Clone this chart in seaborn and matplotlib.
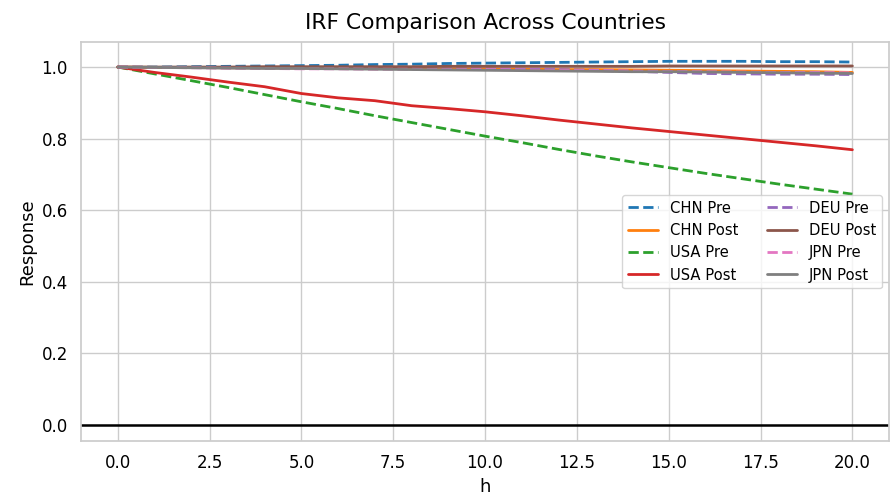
import numpy as np
import pandas as pd
import matplotlib
matplotlib.use("Agg")
import matplotlib.pyplot as plt
import seaborn as sns

h = list(range(21))

chn_pre = [1.000, 1.000, 1.001, 1.002, 1.003, 1.004, 1.005, 1.007, 1.008, 1.010, 1.011,
           1.012, 1.013, 1.014, 1.015, 1.016, 1.016, 1.016, 1.015, 1.015, 1.014]
chn_post = [1.000, 0.999, 0.999, 0.998, 0.998, 0.997, 0.997, 0.996, 0.996, 0.995, 0.995,
            0.994, 0.993, 0.993, 0.992, 0.991, 0.990, 0.989, 0.988, 0.987, 0.985]
usa_pre = [1.000, 0.981, 0.962, 0.943, 0.923, 0.903, 0.884, 0.864, 0.845, 0.826, 0.807,
           0.789, 0.770, 0.752, 0.735, 0.719, 0.703, 0.688, 0.673, 0.659, 0.645]
usa_post = [1.000, 0.985, 0.972, 0.958, 0.945, 0.926, 0.914, 0.906, 0.892, 0.884, 0.875,
            0.864, 0.852, 0.841, 0.830, 0.820, 0.810, 0.800, 0.790, 0.780, 0.769]
deu_pre = [1.000, 0.999, 0.999, 0.998, 0.998, 0.997, 0.997, 0.996, 0.996, 0.995, 0.995,
           0.994, 0.993, 0.991, 0.988, 0.985, 0.982, 0.981, 0.980, 0.980, 0.979]
deu_post = [1.000, 1.000, 1.000, 1.000, 1.001, 1.001, 1.001, 1.001, 1.001, 1.002, 1.002,
            1.002, 1.002, 1.002, 1.002, 1.003, 1.003, 1.003, 1.003, 1.003, 1.003]
jpn_pre = [1.000, 0.999, 0.998, 0.997, 0.996, 0.995, 0.995, 0.994, 0.994, 0.993, 0.993,
           0.992, 0.991, 0.990, 0.989, 0.988, 0.987, 0.986, 0.985, 0.985, 0.984]
jpn_post = [1.000, 0.999, 0.998, 0.997, 0.996, 0.996, 0.995, 0.994, 0.993, 0.992, 0.991,
            0.990, 0.989, 0.988, 0.987, 0.987, 0.986, 0.985, 0.984, 0.983, 0.982]

series = [
    ("CHN Pre", chn_pre, "--"),
    ("CHN Post", chn_post, "-"),
    ("USA Pre", usa_pre, "--"),
    ("USA Post", usa_post, "-"),
    ("DEU Pre", deu_pre, "--"),
    ("DEU Post", deu_post, "-"),
    ("JPN Pre", jpn_pre, "--"),
    ("JPN Post", jpn_post, "-"),
]

sns.set_theme(style="whitegrid")
plt.rcParams.update({"text.color": "black", "axes.labelcolor": "black",
                     "xtick.color": "black", "ytick.color": "black"})
palette = sns.color_palette("tab10", 8)

fig = plt.figure(figsize=(8.9, 4.94), dpi=100)
ax = fig.add_axes([0.091, 0.107, 0.908, 0.808])

for i, (name, vals, ls) in enumerate(series):
    df = pd.DataFrame({"h": h, "Response": vals})
    sns.lineplot(data=df, x="h", y="Response", ax=ax, color=palette[i],
                 linestyle=ls, linewidth=2, label=name)

ax.axhline(0, color="black", linewidth=1.8)
ax.set_xlim(-1, 21)
ax.set_ylim(-0.045, 1.07)
ax.set_xticks(np.arange(0, 20.1, 2.5))
ax.set_xticklabels([f"{v:.1f}" for v in np.arange(0, 20.1, 2.5)])
ax.set_yticks(np.arange(0, 1.01, 0.2))
ax.set_yticklabels([f"{v:.1f}" for v in np.arange(0, 1.01, 0.2)])
ax.tick_params(labelsize=12)
ax.set_xlabel("h", fontsize=13)
ax.set_ylabel("Response", fontsize=13)
ax.set_title("IRF Comparison Across Countries", fontsize=15.7, pad=9)
ax.legend(loc="center right", ncol=2, fontsize=10.6)

fig.savefig("out.png", dpi=100)
